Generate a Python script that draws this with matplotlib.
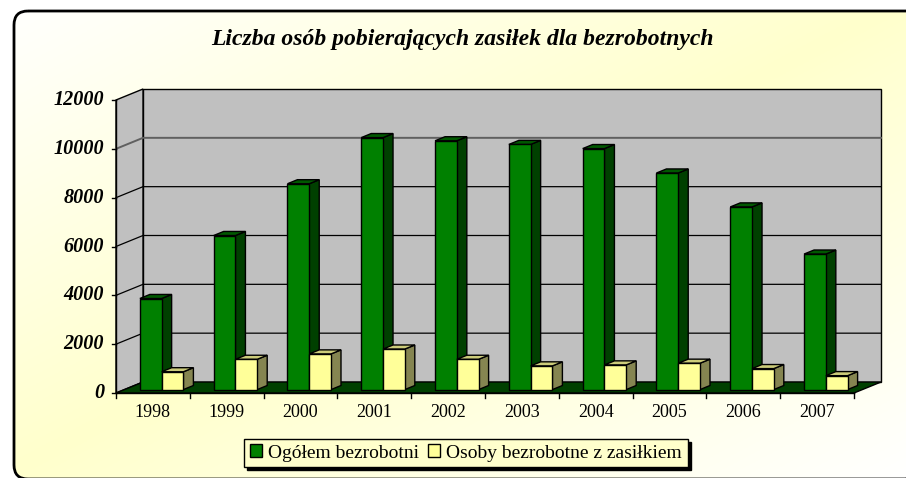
import matplotlib.pyplot as plt
import numpy as np
from matplotlib.patches import Polygon, FancyBboxPatch, Patch

plt.rcParams['font.family'] = ['Liberation Serif', 'DejaVu Serif']

# dane
years = ['1998', '1999', '2000', '2001', '2002', '2003', '2004', '2005', '2006', '2007']
ogolem = [3730, 6310, 8430, 10320, 10190, 10040, 9870, 8870, 7480, 5550]
z_zasilkiem = [730, 1240, 1460, 1660, 1240, 970, 1010, 1080, 860, 570]
y_ticks = [0, 2000, 4000, 6000, 8000, 10000, 12000]
labels = ['Ogółem bezrobotni', 'Osoby bezrobotne z zasiłkiem']
title = 'Liczba osób pobierających zasiłek dla bezrobotnych'

W, H = 906, 478
fig = plt.figure(figsize=(W / 100, H / 100), dpi=100)

# tlo z ramka i gradientem
bg = fig.add_axes([0, 0, 1, 1])
bg.set_xlim(0, W)
bg.set_ylim(H, 0)
bg.axis('off')
xx, yy = np.meshgrid(np.linspace(0, 1, 300), np.linspace(0, 1, 160))
s = np.abs(xx + yy - 1.0)
white = np.array([1.0, 1.0, 1.0])
yellow = np.array([1.0, 1.0, 0.80])
img = yellow + (white - yellow) * s[..., None]
frame = FancyBboxPatch((14, 11), 906, 468, boxstyle='round,pad=0,rounding_size=14',
                       fc='none', ec='black', lw=2, zorder=2, clip_on=False)
bg.add_patch(frame)
im = bg.imshow(img, extent=(0, W, H, 0), aspect='auto', zorder=0)
im.set_clip_path(frame)

# wykres 3D (udawany)
ax = fig.add_axes([116 / W, (H - 393) / H, 738 / W, 293 / H])
ax.set_xlim(0, 10)
ax.set_ylim(0, 12000)
ax.axis('off')
ax.patch.set_alpha(0)

DX = 27 / 73.8   # glebokosc w jednostkach x
DY = 11 / (293 / 12000)  # glebokosc w jednostkach y


def P(x, v, d):
    return (x + d * DX, v + d * DY)


ymax = y_ticks[-1]
n = len(years)
kw = dict(clip_on=False)
ax.add_patch(Polygon([P(0, 0, 1), P(n, 0, 1), P(n, ymax, 1), P(0, ymax, 1)],
                     fc='#C0C0C0', ec='black', lw=1, zorder=1, **kw))
ax.add_patch(Polygon([P(0, 0, 0), P(0, 0, 1), P(0, ymax, 1), P(0, ymax, 0)],
                     fc='#C0C0C0', ec='black', lw=1, zorder=1, **kw))

for v in y_ticks[1:-1]:
    pts = [P(0, v, 0), P(0, v, 1), P(n, v, 1)]
    c, lw = ('#606060', 1.4) if v == 10000 else ('black', 0.9)
    ax.plot([p[0] for p in pts], [p[1] for p in pts], color=c, lw=lw, zorder=1.5, **kw)

ax.add_patch(Polygon([P(0, 0, 0), P(n, 0, 0), P(n, 0, 1), P(0, 0, 1)],
                     fc='#004000', ec='black', lw=1, zorder=2, **kw))

# osie
ax.plot([0, 0], [0, ymax], color='black', lw=1, zorder=2, **kw)
for v in y_ticks:
    ax.plot([-0.055, 0], [v, v], color='black', lw=1, **kw)
    ax.text(-0.16, v, str(v), ha='right', va='center', fontsize=14.5,
            weight='bold', style='italic')
ax.plot([0, n], [0, 0], color='black', lw=1, zorder=2, **kw)
for i in range(n + 1):
    ax.plot([i, i], [0, -205], color='black', lw=1, **kw)
for i, y in enumerate(years):
    ax.text(i + 0.5, -450, y, ha='center', va='top', fontsize=13)

# slupki
d0, d1 = 0.31, 0.68
w = 0.295
series = [
    (ogolem, 0.21, '#008000', '#004000', '#005800', 3),
    (z_zasilkiem, 0.505, '#FFFF99', '#858551', '#CCCC7A', 4),
]
for vals, off, cf, cs, ct, z in series:
    x0 = np.arange(n) + off
    ax.bar(x0 + d0 * DX, vals, width=w, bottom=d0 * DY, align='edge',
           color=cf, edgecolor='black', lw=1, zorder=z + 0.2, clip_on=False)
    for xi, v in zip(x0, vals):
        ax.add_patch(Polygon([P(xi + w, 0, d0), P(xi + w, 0, d1), P(xi + w, v, d1), P(xi + w, v, d0)],
                             fc=cs, ec='black', lw=1, zorder=z, **kw))
        ax.add_patch(Polygon([P(xi, v, d0), P(xi + w, v, d0), P(xi + w, v, d1), P(xi, v, d1)],
                             fc=ct, ec='black', lw=1, zorder=z, **kw))

fig.text(462 / W, 1 - 40 / H, title, ha='center', va='center', fontsize=17,
         weight='bold', style='italic')

handles = [Patch(fc='#008000', ec='black'), Patch(fc='#FFFF99', ec='black')]
fig.legend(handles, labels, loc='center', bbox_to_anchor=(466 / W, 1 - 453 / H), ncol=2,
           frameon=True, fancybox=False, edgecolor='black', facecolor='#FFFFCC', framealpha=1,
           shadow={'ox': 2.2, 'oy': -2.2, 'color': 'black', 'alpha': 1},
           handlelength=0.6, handleheight=0.6, handletextpad=0.3, columnspacing=0.5,
           borderpad=0.3, fontsize=14)

fig.savefig('out.png', dpi=100)
